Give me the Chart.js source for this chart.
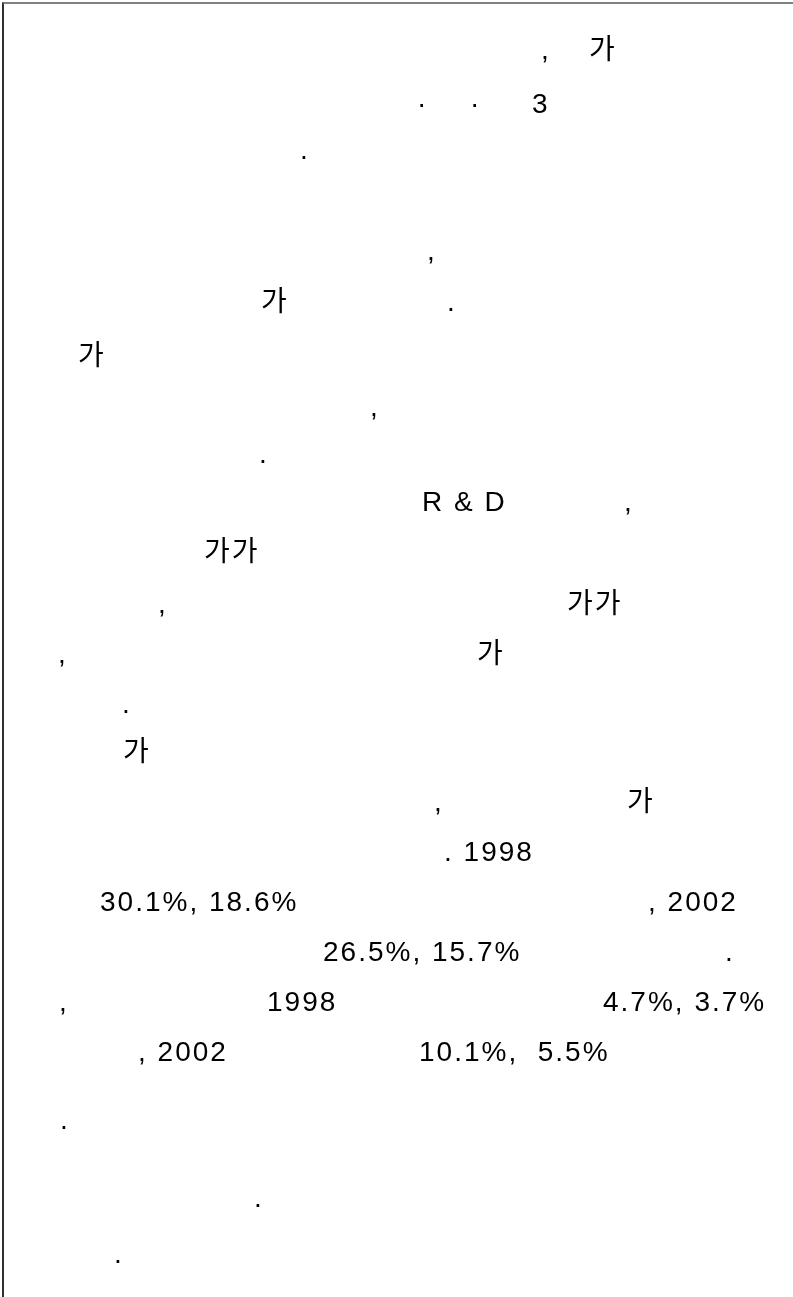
<!DOCTYPE html>
<html>
<head>
<meta charset="utf-8">
<script src="https://cdn.jsdelivr.net/npm/chart.js@4"></script>
<style>
  html, body { margin: 0; padding: 0; background: #fff; }
  #page { position: relative; width: 793px; height: 1297px; overflow: hidden; }
  #frame { position: absolute; left: 2px; top: 2px; right: 0; bottom: 0;
           border-top: 2px solid #808080; border-left: 2px solid #303030; }
  canvas { position: absolute; left: 0; top: 0; }
</style>
</head>
<body>
<div id="page">
  <div id="frame"></div>
  <canvas id="graph" width="793" height="1297"></canvas>
</div>
<script>
// text fragments that survived on the page, line by line
var fragments = [
  ',', '가',
  '·', '·', '3',
  '.',
  ',',
  '가', '.',
  '가',
  ',',
  '.',
  'R & D', ',',
  '가가',
  ',', '가가',
  ',', '가',
  '.',
  '가',
  ',', '가',
  '. 1998',
  '30.1%, 18.6%', ', 2002',
  '26.5%, 15.7%', '.',
  ',', '1998', '4.7%, 3.7%',
  ', 2002', '10.1%,  5.5%',
  '.',
  '.',
  '.'
]
// line each fragment sits on (0 = first line)
var lineOf = [
  0, 0,
  1, 1, 1,
  2,
  3,
  4, 4,
  5,
  6,
  7,
  8, 8,
  9,
  10, 10,
  11, 11,
  12,
  13,
  14, 14,
  15,
  16, 16,
  17, 17,
  18, 18, 18,
  19, 19,
  20,
  21,
  22
]
// column where each fragment starts
var colOf = [
  541, 589,
  417, 470, 532,
  300,
  427,
  261, 447,
  78,
  370,
  259,
  422, 624,
  204,
  158, 567,
  58, 477,
  122,
  123,
  434, 627,
  444,
  100, 648,
  323, 725,
  59, 267, 603,
  138, 419,
  60,
  254,
  114
]
// baseline of each line
var lineBase = [59, 113, 159, 260, 311, 365, 416, 463, 511, 561, 613, 663, 713, 761, 811,
  861, 911, 961, 1011, 1061, 1129, 1207, 1263]

var ctx = document.getElementById('graph').getContext('2d')

var points = fragments.map(function (t, i) {
  return { x: colOf[i], y: lineBase[lineOf[i]], text: t }
})

var textLabels = {
  id: 'textLabels',
  afterDatasetsDraw: function (chart) {
    var c = chart.ctx
    var xs = chart.scales.x, ys = chart.scales.y
    c.save()
    c.fillStyle = '#000'
    c.font = '28px "Liberation Sans", Arial, "Noto Sans CJK KR", sans-serif'
    c.textBaseline = 'alphabetic'
    c.textAlign = 'left'
    if ('letterSpacing' in c) c.letterSpacing = '2px'
    chart.data.datasets[0].data.forEach(function (p) {
      c.fillText(p.text, xs.getPixelForValue(p.x), ys.getPixelForValue(p.y))
    })
    c.restore()
  }
}

var myChart = new Chart(ctx, {
  type: 'scatter',
  data: {
    datasets: [{
      data: points,
      pointRadius: 0,
      pointHoverRadius: 0
    }]
  },
  options: {
    responsive: false,
    animation: false,
    devicePixelRatio: 1,
    layout: { padding: 0 },
    plugins: {
      legend: { display: false },
      tooltip: { enabled: false }
    },
    scales: {
      x: { type: 'linear', min: 0, max: 793, display: false },
      y: { type: 'linear', min: 0, max: 1297, reverse: true, display: false }
    }
  },
  plugins: [textLabels]
})
</script>
</body>
</html>
